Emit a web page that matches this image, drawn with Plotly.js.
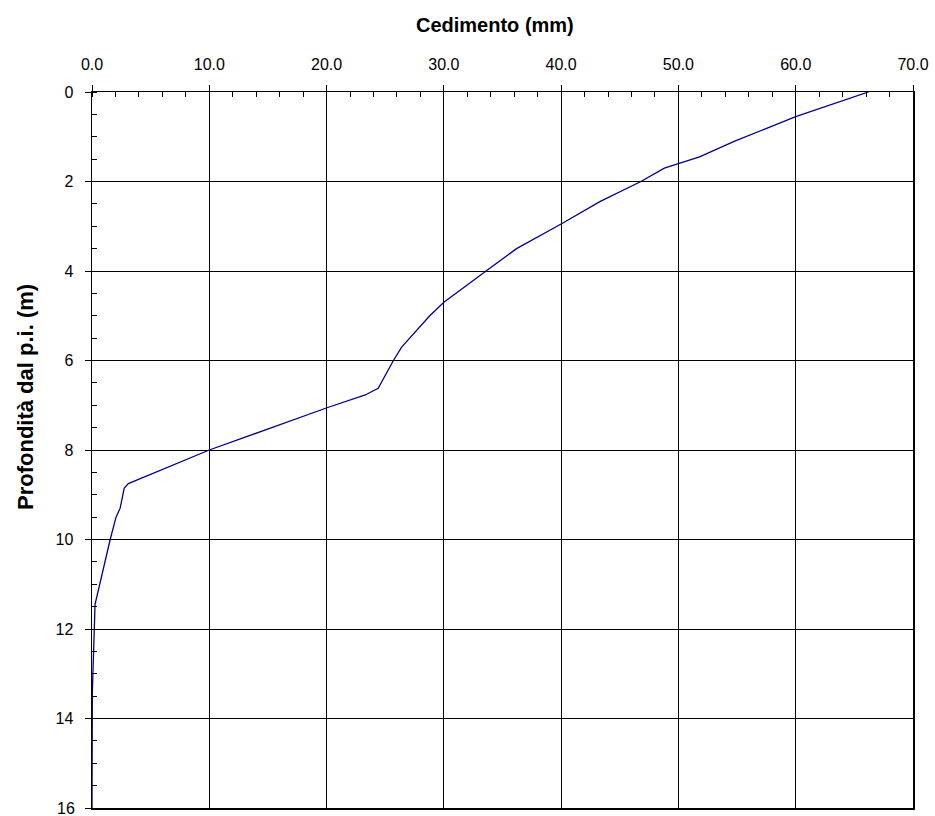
<!DOCTYPE html>
<html>
<head>
<meta charset="utf-8">
<script src="https://cdn.plot.ly/plotly-3.0.1.min.js"></script>
<style>html,body{margin:0;padding:0;background:#fff;}#chart{width:935px;height:816px;}</style>
</head>
<body>
<div id="chart"></div>
<script>
// Data
const depth = [0, 0.55, 0.75, 1.1, 1.45, 1.7, 2.0, 2.45, 2.95, 3.5, 4.0, 4.7, 5.0, 5.7, 6.0, 6.5, 6.62, 6.77, 7.05, 8.0, 8.75, 8.85, 9.3, 9.5, 10.0, 11.45, 12.0, 13.4, 16.0];
const settlement = [66.2, 60.0, 58.1, 54.8, 51.8, 48.8, 46.8, 43.3, 40.0, 36.2, 33.6, 30.0, 28.8, 26.4, 25.7, 24.6, 24.4, 23.3, 20.1, 10.0, 3.1, 2.75, 2.4, 2.05, 1.55, 0.26, 0.2, 0.03, 0.0];
const xTicks = [0, 10, 20, 30, 40, 50, 60, 70];
const yTicks = [0, 2, 4, 6, 8, 10, 12, 14, 16];
const xTitle = "Cedimento (mm)";
const yTitle = "Profondità dal p.i. (m)";

const plotL = 92, plotR = 913, plotT = 92, plotB = 808;
const W = 935, H = 816;
const px = x => (x - plotL) / (plotR - plotL);
const py = y => (plotB - y) / (plotB - plotT);

const font = "Liberation Sans, Arial, sans-serif";

const trace = {
  x: settlement, y: depth, type: "scatter", mode: "lines",
  line: {color: "#00008b", width: 1.3}, hoverinfo: "none", cliponaxis: false
};

// The last depth label sits on the bottom edge; Plotly drops it, so draw it as an annotation
const lastY = yTicks[yTicks.length - 1];

const layout = {
  width: W, height: H,
  margin: {l: plotL, r: W - plotR, t: plotT, b: H - plotB},
  paper_bgcolor: "#fff", plot_bgcolor: "#fff",
  showlegend: false,
  font: {family: font, size: 16, color: "#000"},
  xaxis: {
    side: "top", range: [0, 70.0001], tickmode: "array", tickvals: xTicks,
    ticktext: xTicks.map(v => v.toFixed(1)),
    showgrid: true, gridcolor: "#000", gridwidth: 1,
    zeroline: false, showline: true, linecolor: "#000", linewidth: 1.5, mirror: true,
    ticks: "outside", ticklen: 6, tickcolor: "#000", tickwidth: 1,
    ticklabelstandoff: 8,
    minor: {tickmode: "linear", tick0: 0, dtick: 2, ticks: "inside", ticklen: 5, tickcolor: "#000", tickwidth: 1, showgrid: false},
    tickfont: {family: font, size: 16, color: "#000"}, fixedrange: true, automargin: false
  },
  yaxis: {
    range: [16.0001, 0], tickmode: "array", tickvals: yTicks,
    ticktext: yTicks.map(v => String(v)),
    showgrid: true, gridcolor: "#000", gridwidth: 1,
    zeroline: false, showline: true, linecolor: "#000", linewidth: 1.5, mirror: true,
    ticks: "outside", ticklen: 6, tickcolor: "#000", tickwidth: 1,
    ticklabelstandoff: 8,
    minor: {tickmode: "linear", tick0: 0, dtick: 0.5, ticks: "inside", ticklen: 5, tickcolor: "#000", tickwidth: 1, showgrid: false},
    tickfont: {family: font, size: 16, color: "#000"}, fixedrange: true, automargin: false
  },
  annotations: [
    {text: "<b>" + xTitle + "</b>", xref: "paper", yref: "paper", x: px(495), y: py(25),
     xanchor: "center", yanchor: "middle", showarrow: false, font: {family: font, size: 20, color: "#000"}},
    {text: "<b>" + yTitle + "</b>", xref: "paper", yref: "paper", x: px(25), y: py(397),
     xanchor: "center", yanchor: "middle", textangle: -90, showarrow: false, font: {family: font, size: 22, color: "#000"}},
    {text: String(lastY), xref: "paper", yref: "y", x: px(77), y: lastY,
     xanchor: "right", yanchor: "middle", showarrow: false, font: {family: font, size: 16, color: "#000"}}
  ]
};

Plotly.newPlot("chart", [trace], layout, {staticPlot: true, displayModeBar: false});
</script>
</body>
</html>
